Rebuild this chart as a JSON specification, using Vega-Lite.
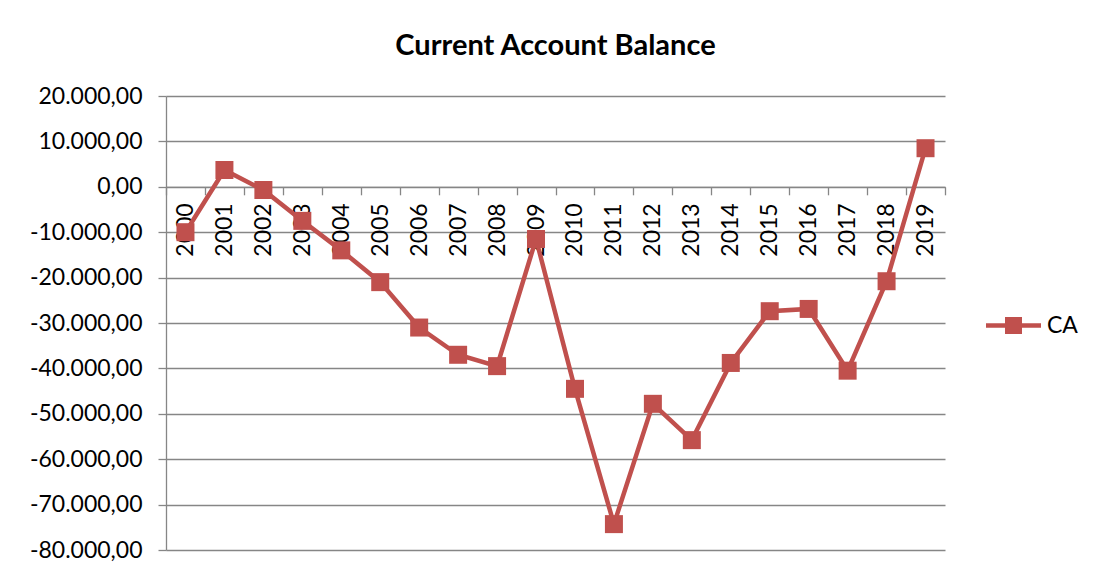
{
  "$schema": "https://vega.github.io/schema/vega-lite/v6.json",
  "autosize": "none",
  "width": 779,
  "height": 454,
  "padding": {"left": 166, "top": 96, "right": 149, "bottom": 26},
  "background": "white",
  "config": {
    "locale": {"number": {"decimal": ",", "thousands": ".", "grouping": [3], "currency": ["", ""], "minus": "-"}},
    "view": {"stroke": null},
    "font": "Lato"
  },
  "title": {
    "text": "Current Account Balance",
    "font": "Lato",
    "fontSize": 29,
    "fontWeight": "bold",
    "color": "#000000",
    "anchor": "middle",
    "offset": 24
  },
  "data": {
    "values": [
      {"year": "2000", "ca": -10000, "series": "CA"},
      {"year": "2001", "ca": 3700, "series": "CA"},
      {"year": "2002", "ca": -700, "series": "CA"},
      {"year": "2003", "ca": -7500, "series": "CA"},
      {"year": "2004", "ca": -14000, "series": "CA"},
      {"year": "2005", "ca": -21000, "series": "CA"},
      {"year": "2006", "ca": -31000, "series": "CA"},
      {"year": "2007", "ca": -37000, "series": "CA"},
      {"year": "2008", "ca": -39500, "series": "CA"},
      {"year": "2009", "ca": -11500, "series": "CA"},
      {"year": "2010", "ca": -44500, "series": "CA"},
      {"year": "2011", "ca": -74300, "series": "CA"},
      {"year": "2012", "ca": -47800, "series": "CA"},
      {"year": "2013", "ca": -55800, "series": "CA"},
      {"year": "2014", "ca": -38800, "series": "CA"},
      {"year": "2015", "ca": -27400, "series": "CA"},
      {"year": "2016", "ca": -26900, "series": "CA"},
      {"year": "2017", "ca": -40500, "series": "CA"},
      {"year": "2018", "ca": -20800, "series": "CA"},
      {"year": "2019", "ca": 8500, "series": "CA"}
    ]
  },
  "encoding": {
    "x": {
      "field": "year",
      "type": "ordinal",
      "scale": {"type": "band", "paddingInner": 0, "paddingOuter": 0},
      "axis": {
        "title": null,
        "orient": "bottom",
        "offset": -363.2,
        "tickBand": "extent",
        "labelAngle": -90,
        "labelFont": "Lato",
        "labelFontSize": 23,
        "labelColor": "#000000",
        "labelPadding": 8,
        "tickSize": 8,
        "tickColor": "#868686",
        "tickWidth": 1.3,
        "domainColor": "#868686",
        "domainWidth": 1.3,
        "grid": false
      }
    },
    "y": {
      "field": "ca",
      "type": "quantitative",
      "scale": {"domain": [-80000, 20000], "nice": false, "zero": false},
      "axis": {
        "title": null,
        "values": [-80000, -70000, -60000, -50000, -40000, -30000, -20000, -10000, 0, 10000, 20000],
        "format": ",.2f",
        "labelFont": "Lato",
        "labelFontSize": 23,
        "labelColor": "#000000",
        "labelPadding": 16,
        "tickSize": 8,
        "tickColor": "#868686",
        "tickWidth": 1.3,
        "domainColor": "#868686",
        "domainWidth": 1.3,
        "grid": true,
        "gridColor": "#868686",
        "gridWidth": 1.3
      }
    },
    "color": {
      "field": "series",
      "type": "nominal",
      "scale": {"domain": ["CA"], "range": ["#C0504D"]},
      "legend": {
        "title": null,
        "orient": "none",
        "legendX": 836,
        "legendY": 218,
        "padding": 0,
        "symbolType": "M-2.75,-0.22H2.75V0.22H-2.75Z M-0.85,-0.85H0.85V0.85H-0.85Z",
        "symbolSize": 400,
        "symbolFillColor": "#C0504D",
        "symbolStrokeColor": "#C0504D",
        "symbolStrokeWidth": 0,
        "symbolOpacity": 1,
        "labelFont": "Lato",
        "labelFontSize": 23,
        "labelColor": "#000000",
        "labelOffset": 22
      }
    }
  },
  "layer": [
    {"mark": {"type": "line", "strokeWidth": 4.5, "strokeJoin": "miter"}},
    {"mark": {"type": "point", "shape": "square", "filled": true, "size": 324, "opacity": 1}}
  ]
}
